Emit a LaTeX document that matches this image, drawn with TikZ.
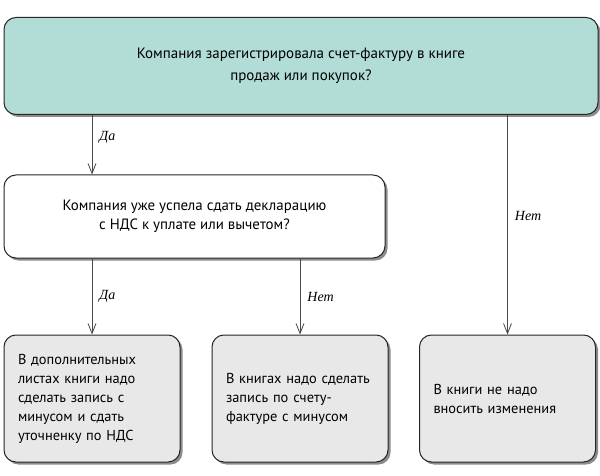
\documentclass[tikz,border=0pt]{standalone}
\usepackage{fontspec}
\setmainfont{PT Sans}
\newfontfamily\answerfont{Liberation Serif}
\usetikzlibrary{shadows,arrows.meta}
\definecolor{tealbox}{HTML}{B2DDD6}
\definecolor{greybox}{HTML}{E8E8E8}
\definecolor{linegrey}{HTML}{4A4A4A}
\begin{document}
\begin{tikzpicture}[x=1pt, y=-1pt]
% define node styles
\tikzstyle{every node} = [font=\fontsize{15}{21.5}\selectfont]
\tikzstyle{box}        = [draw=black!85, line width=1pt, rounded corners=12pt, inner sep=0pt,
                          drop shadow={shadow xshift=2.5pt, shadow yshift=-2.5pt, fill=black!45, opacity=1}]
\tikzstyle{result}     = [box, fill=greybox, text width=148pt, inner xsep=14pt, align=left,
                          minimum height=127pt, font=\fontsize{14.4}{19}\selectfont]
\tikzstyle{flow}       = [draw=linegrey, line width=0.8pt, -{Straight Barb[length=10pt, width=8pt]}]
\tikzstyle{answer}     = [right, inner sep=7pt, font=\answerfont\itshape\fontsize{14}{16}\selectfont]

\useasboundingbox (0,0) rectangle (600,476);

% question nodes
\node [box, fill=tealbox, minimum width=594pt, minimum height=97pt, align=center] (q1) at (301,66)
    {Компания зарегистрировала счет-фактуру в книге\\продаж или покупок?};
\node [box, fill=white, minimum width=381pt, minimum height=83pt, align=center,
       font=\fontsize{14.9}{19.5}\selectfont] (q2) at (194.5,216.5)
    {Компания уже успела сдать декларацию\\с НДС к уплате или вычетом?};

% result nodes
\foreach \n/\x/\txt in {r1/92/{В дополнительных\\листах книги надо\\сделать запись с\\минусом и сдать\\уточненку по НДС},
                        r2/300/{В книгах надо сделать\\запись по счету-\\фактуре с минусом},
                        r3/507.5/{В книги не надо\\вносить изменения}}
    \node [result] (\n) at (\x,398.5) {\txt};

% edges
\draw [flow] (q1.south -| r1) -- node [answer, pos=0.38] {Да} (q2.north -| r1);
\draw [flow] (q1.south -| r3) -- node [answer, pos=0.46] {Нет} (r3.north);
\foreach \to/\lbl in {r1/Да, r2/Нет}
    \draw [flow] (q2.south -| \to) -- node [answer] {\lbl} (\to.north);

\end{tikzpicture}
\end{document}
